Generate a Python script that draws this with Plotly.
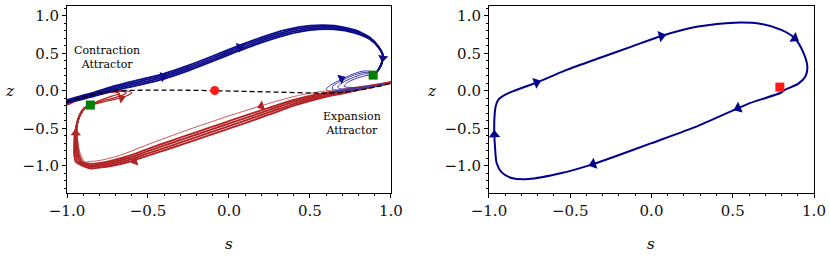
import math
import plotly.graph_objects as go

# ---------------- LEFT PANEL DATA ----------------
# blue trajectories (upper arc), shared s grid
blue_arc_s = [-1.0, -0.85, -0.7, -0.55, -0.4, -0.25, -0.1, 0.05, 0.2, 0.35, 0.5, 0.65, 0.78, 0.87, 0.925, 0.95]
blue_arc_z1 = [-0.12, -0.03, 0.07, 0.15, 0.23, 0.34, 0.465, 0.595, 0.715, 0.815, 0.87, 0.87, 0.81, 0.712, 0.586, 0.47]
blue_arc_z2 = [-0.133, -0.047, 0.05, 0.127, 0.207, 0.317, 0.442, 0.572, 0.692, 0.792, 0.85, 0.853, 0.797, 0.704, 0.582, 0.47]
blue_arc_z3 = [-0.147, -0.063, 0.03, 0.103, 0.183, 0.293, 0.418, 0.548, 0.668, 0.768, 0.83, 0.837, 0.783, 0.696, 0.578, 0.47]
blue_arc_z4 = [-0.16, -0.08, 0.01, 0.08, 0.16, 0.27, 0.395, 0.525, 0.645, 0.745, 0.81, 0.82, 0.77, 0.688, 0.574, 0.47]
blue_tail_s = [0.943, 0.925, 0.905, 0.89]
blue_tail_z = [0.37, 0.29, 0.235, 0.21]

# blue spirals near the right attractor
blue_sp1_s = [0.97, 0.88, 0.78, 0.68, 0.615, 0.60, 0.63, 0.69, 0.76, 0.83, 0.88, 0.89]
blue_sp1_z = [0.10, 0.055, 0.015, -0.01, -0.01, 0.02, 0.08, 0.15, 0.22, 0.265, 0.255, 0.21]
blue_sp2_s = [0.95, 0.86, 0.76, 0.68, 0.64, 0.64, 0.69, 0.76, 0.83, 0.875, 0.89]
blue_sp2_z = [0.085, 0.05, 0.02, 0.005, 0.015, 0.06, 0.13, 0.20, 0.245, 0.24, 0.21]
blue_sp3_s = [0.93, 0.84, 0.75, 0.69, 0.67, 0.70, 0.77, 0.83, 0.87, 0.89]
blue_sp3_z = [0.075, 0.05, 0.03, 0.025, 0.05, 0.11, 0.18, 0.225, 0.225, 0.21]
blue_sp4_s = [0.91, 0.82, 0.75, 0.71, 0.73, 0.79, 0.85, 0.89]
blue_sp4_z = [0.07, 0.05, 0.045, 0.06, 0.11, 0.17, 0.205, 0.21]

# red trajectories (lower arc), shared s grid then turn with shared z grid
red_arc_s = [1.0, 0.85, 0.7, 0.55, 0.4, 0.25, 0.1, -0.05, -0.2, -0.35, -0.5, -0.62, -0.72, -0.8, -0.86]
red_arc_z1 = [0.105, 0.033, -0.035, -0.105, -0.198, -0.315, -0.43, -0.54, -0.65, -0.76, -0.865, -0.95, -1.0, -1.025, -1.035]
red_arc_z2 = [0.108, 0.041, -0.022, -0.085, -0.173, -0.285, -0.397, -0.507, -0.617, -0.727, -0.835, -0.923, -0.977, -1.005, -1.015]
red_arc_z3 = [0.112, 0.049, -0.008, -0.065, -0.147, -0.255, -0.363, -0.473, -0.583, -0.693, -0.805, -0.897, -0.953, -0.985, -0.995]
red_arc_z4 = [0.115, 0.057, 0.005, -0.045, -0.122, -0.225, -0.33, -0.44, -0.55, -0.66, -0.775, -0.87, -0.93, -0.965, -0.975]
red_arc_zt = [0.122, 0.07, 0.025, -0.015, -0.075, -0.165, -0.265, -0.37, -0.48, -0.595, -0.715, -0.82, -0.89, -0.93, -0.945]
red_turn_z = [-0.95, -0.86, -0.72, -0.56, -0.42, -0.3, -0.23, -0.19]
red_turn_s1 = [-0.945, -0.955, -0.956, -0.951, -0.936, -0.915, -0.89, -0.856]
red_turn_s2 = [-0.932, -0.945, -0.949, -0.948, -0.936, -0.915, -0.89, -0.856]
red_turn_s3 = [-0.918, -0.935, -0.943, -0.944, -0.936, -0.915, -0.89, -0.856]
red_turn_s4 = [-0.905, -0.925, -0.936, -0.941, -0.936, -0.915, -0.89, -0.856]
red_turn_st = [-0.89, -0.915, -0.93, -0.938, -0.936, -0.915, -0.89, -0.856]

# red spirals near the left attractor
red_sp1_s = [-0.856, -0.78, -0.70, -0.63, -0.60, -0.62, -0.68, -0.76, -0.85, -0.93, -1.0]
red_sp1_z = [-0.19, -0.15, -0.11, -0.065, -0.025, -0.005, 0.0, -0.02, -0.06, -0.11, -0.16]
red_sp2_s = [-0.856, -0.79, -0.72, -0.66, -0.635, -0.65, -0.70, -0.77, -0.86, -0.93, -1.0]
red_sp2_z = [-0.19, -0.14, -0.10, -0.06, -0.03, -0.01, -0.005, -0.03, -0.075, -0.12, -0.175]
red_sp3_s = [-0.856, -0.80, -0.75, -0.70, -0.675, -0.69, -0.73, -0.79, -0.87, -0.94, -1.0]
red_sp3_z = [-0.19, -0.13, -0.09, -0.055, -0.035, -0.02, -0.02, -0.045, -0.09, -0.135, -0.19]

# unstable branch (dashed)
dash_s = [-1.0, -0.9, -0.8, -0.7, -0.55, -0.4, -0.25, -0.1, 0.05, 0.2, 0.35, 0.5, 0.6, 0.7, 0.8, 0.9, 1.0]
dash_z = [-0.15, -0.085, -0.03, -0.002, 0.008, 0.01, 0.008, 0.002, -0.005, -0.012, -0.02, -0.028, -0.03, -0.02, 0.01, 0.05, 0.1]

fixed_s = [-0.088]
fixed_z = [0.004]
attr_s = [-0.856, 0.89]
attr_z = [-0.19, 0.21]

blue_arrow_s = [-0.407, 0.066, 0.95, 0.694]
blue_arrow_z = [0.19, 0.585, 0.44, 0.164]
red_arrow_s = [0.2, -0.582, -0.946, -0.665]
red_arrow_z = [-0.205, -0.94, -0.564, -0.095]

# ---------------- RIGHT PANEL DATA ----------------
loop_s = [0.799, 0.594, 0.533, 0.287, 0.0, -0.225, -0.359, -0.553, -0.758, -0.861, -0.922, -0.953,
          -0.963, -0.967, -0.967, -0.959, -0.943, -0.902, -0.84, -0.707, -0.533, -0.307, -0.123,
          0.061, 0.287, 0.512, 0.676, 0.799, 0.881, 0.932, 0.959, 0.947, 0.902, 0.82, 0.799]
loop_z = [-0.022, -0.173, -0.231, -0.467, -0.698, -0.876, -0.978, -1.098, -1.178, -1.164, -1.089, -0.964,
          -0.742, -0.587, -0.387, -0.209, -0.12, -0.053, 0.004, 0.111, 0.271, 0.449, 0.591,
          0.733, 0.858, 0.911, 0.893, 0.813, 0.702, 0.524, 0.324, 0.191, 0.093, 0.013, -0.022]
loop_arrow_s = [0.533, -0.359, -0.967, -0.707, 0.061, 0.881]
loop_arrow_z = [-0.231, -0.978, -0.587, 0.111, 0.733, 0.702]
start_s = [0.79]
start_z = [0.05]

# ---------------- LAYOUT GEOMETRY ----------------
W, H = 830, 260
ML, MR, MT, MB = 67, 16, 6, 67
PW, PH = W - ML - MR, H - MT - MB
dom_left = [0.0, 0.4337]
dom_right = [0.5649, 1.0]
XR = [-1.0, 1.0]
YR = [-1.364, 1.133]
FONT = "DejaVu Serif"

BLUE = "#0d0d8a"
BLUE_SP = "#3a3aa8"
RED = "#b22426"
RED_LT = "#d46a6a"
NAVY = "#00008b"


def scales(dom):
    sx = PW * (dom[1] - dom[0]) / (XR[1] - XR[0])
    sy = PH / (YR[1] - YR[0])
    return sx, sy


def arrow_angles(curves, as_, az, dom):
    sx, sy = scales(dom)
    angs = []
    for px, pz in zip(as_, az):
        best = None
        for cs, cz in curves:
            for i in range(len(cs) - 1):
                ax, ay = cs[i] * sx, cz[i] * sy
                bx, by = cs[i + 1] * sx, cz[i + 1] * sy
                qx, qy = px * sx, pz * sy
                dx, dy = bx - ax, by - ay
                L2 = dx * dx + dy * dy
                if L2 == 0:
                    continue
                t = max(0.0, min(1.0, ((qx - ax) * dx + (qy - ay) * dy) / L2))
                d = (ax + t * dx - qx) ** 2 + (ay + t * dy - qy) ** 2
                if best is None or d < best[0]:
                    best = (d, math.degrees(math.atan2(dx, dy)))
        angs.append(best[1])
    return angs


fig = go.Figure()


def line(xs, ys, color, width, xa="x", ya="y", smoothing=0.7):
    fig.add_trace(go.Scatter(x=xs, y=ys, mode="lines", xaxis=xa, yaxis=ya,
                             line=dict(color=color, width=width, shape="spline", smoothing=smoothing),
                             hoverinfo="skip", showlegend=False))


# red spirals
red_spirals = [(red_sp1_s, red_sp1_z), (red_sp2_s, red_sp2_z), (red_sp3_s, red_sp3_z)]
for s_, z_ in red_spirals:
    line(s_, z_, RED, 1.2)

# red arc lines
red_curves = []
for zz, ts, col, w in [(red_arc_zt, red_turn_st, RED_LT, 1.1),
                       (red_arc_z1, red_turn_s1, RED, 1.9),
                       (red_arc_z2, red_turn_s2, RED, 1.9),
                       (red_arc_z3, red_turn_s3, RED, 1.9),
                       (red_arc_z4, red_turn_s4, RED, 1.9)]:
    cs = red_arc_s + ts
    cz = zz + red_turn_z
    red_curves.append((cs, cz))
    line(cs, cz, col, w)

# blue arc lines
blue_curves = []
for zz in [blue_arc_z1, blue_arc_z2, blue_arc_z3, blue_arc_z4]:
    cs = blue_arc_s + blue_tail_s
    cz = zz + blue_tail_z
    blue_curves.append((cs, cz))
    line(cs, cz, BLUE, 1.8, smoothing=0.6)

# blue spirals
blue_spirals = [(blue_sp1_s, blue_sp1_z), (blue_sp2_s, blue_sp2_z),
                (blue_sp3_s, blue_sp3_z), (blue_sp4_s, blue_sp4_z)]
for s_, z_ in blue_spirals:
    line(s_, z_, BLUE_SP, 1.0)

# dashed branch
fig.add_trace(go.Scatter(x=dash_s, y=dash_z, mode="lines",
                         line=dict(color="black", width=1.3, dash="5px,3px", shape="spline"),
                         hoverinfo="skip", showlegend=False))

# arrows left
fig.add_trace(go.Scatter(x=blue_arrow_s, y=blue_arrow_z, mode="markers",
                         marker=dict(symbol="triangle-up", size=9, color=BLUE,
                                     angle=arrow_angles(blue_curves + blue_spirals, blue_arrow_s, blue_arrow_z, dom_left)),
                         hoverinfo="skip", showlegend=False))
fig.add_trace(go.Scatter(x=red_arrow_s, y=red_arrow_z, mode="markers",
                         marker=dict(symbol="triangle-up", size=9, color=RED,
                                     angle=arrow_angles(red_curves + red_spirals, red_arrow_s, red_arrow_z, dom_left)),
                         hoverinfo="skip", showlegend=False))

# fixed point & attractors
fig.add_trace(go.Scatter(x=fixed_s, y=fixed_z, mode="markers",
                         marker=dict(symbol="circle", size=9, color="#ff1a1a"),
                         hoverinfo="skip", showlegend=False))
fig.add_trace(go.Scatter(x=attr_s, y=attr_z, mode="markers",
                         marker=dict(symbol="square", size=9, color="#008000"),
                         hoverinfo="skip", showlegend=False))

# right panel
line(loop_s, loop_z, NAVY, 2.0, "x2", "y2")
fig.add_trace(go.Scatter(x=loop_arrow_s, y=loop_arrow_z, mode="markers", xaxis="x2", yaxis="y2",
                         marker=dict(symbol="triangle-up", size=10, color=NAVY,
                                     angle=arrow_angles([(loop_s, loop_z)], loop_arrow_s, loop_arrow_z, dom_right)),
                         hoverinfo="skip", showlegend=False))
fig.add_trace(go.Scatter(x=start_s, y=start_z, mode="markers", xaxis="x2", yaxis="y2",
                         marker=dict(symbol="square", size=9, color="#ff1a1a"),
                         hoverinfo="skip", showlegend=False))

tickfont = dict(family=FONT, size=15, color="#111")


def xaxis(dom, anchor):
    return dict(domain=dom, anchor=anchor, range=XR, tickvals=[-1, -0.5, 0, 0.5, 1],
                tickformat=".1f", ticks="outside", ticklen=4, tickwidth=1, tickcolor="black",
                minor=dict(dtick=0.1, tick0=0, ticks="outside", ticklen=2, tickcolor="black", showgrid=False),
                showline=True, linecolor="black", linewidth=1, mirror=True, automargin=False,
                showgrid=False, zeroline=False, tickfont=tickfont)


def yaxis(anchor):
    return dict(domain=[0, 1], anchor=anchor, range=YR, tickvals=[-1, -0.5, 0, 0.5, 1],
                tickformat=".1f", ticks="outside", ticklen=4, tickwidth=1, tickcolor="black",
                minor=dict(dtick=0.1, tick0=0, ticks="outside", ticklen=2, tickcolor="black", showgrid=False),
                showline=True, linecolor="black", linewidth=1, mirror=True, automargin=False,
                showgrid=False, zeroline=False, tickfont=tickfont)


annots = [
    dict(text="Contraction<br>Attractor", x=-0.755, y=0.45, xref="x", yref="y", showarrow=False,
         font=dict(family=FONT, size=11, color="black")),
    dict(text="Expansion<br>Attractor", x=0.762, y=-0.43, xref="x", yref="y", showarrow=False,
         font=dict(family=FONT, size=11, color="black")),
]
for xr, yr in [("x", "y"), ("x2", "y2")]:
    annots.append(dict(text="<i>s</i>", x=0.5, y=-0.275, xref=xr + " domain", yref=yr + " domain",
                       showarrow=False, font=dict(family=FONT, size=15, color="black"),
                       xanchor="center", yanchor="middle"))
    annots.append(dict(text="<i>z</i>", x=-0.178, y=0.545, xref=xr + " domain", yref=yr + " domain",
                       showarrow=False, font=dict(family=FONT, size=15, color="black"),
                       xanchor="center", yanchor="middle"))

fig.update_layout(
    width=W, height=H, margin=dict(l=ML, r=MR, t=MT, b=MB, autoexpand=False),
    paper_bgcolor="white", plot_bgcolor="white",
    xaxis=xaxis(dom_left, "y"), yaxis=yaxis("x"),
    xaxis2=xaxis(dom_right, "y2"), yaxis2=yaxis("x2"),
    annotations=annots, showlegend=False,
    font=dict(family=FONT),
)

fig.write_html("out.html", config={"displayModeBar": False},
               post_script="document.body.style.margin='0';document.body.style.overflow='hidden';")
